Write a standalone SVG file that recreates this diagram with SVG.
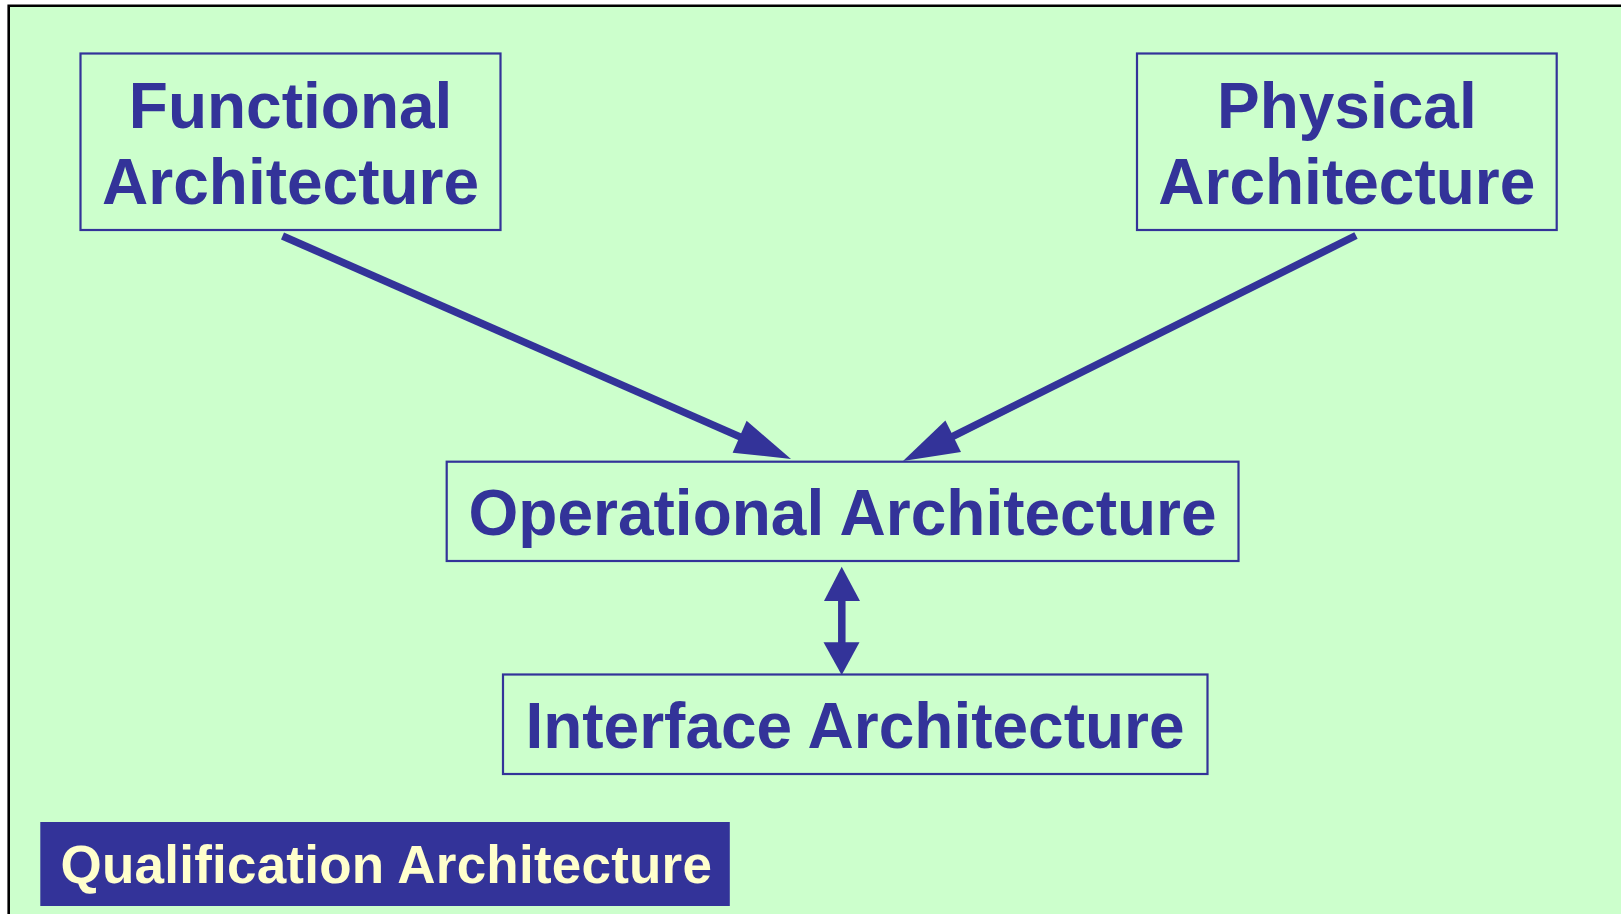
<svg xmlns="http://www.w3.org/2000/svg" width="1621" height="914" viewBox="0 0 1621 914">
<defs>
<style>
.box{fill:none;stroke:#333399;stroke-width:2.2}
.lbl{font-family:"Liberation Sans",Arial,sans-serif;font-weight:bold;font-size:64px;fill:#333399;text-anchor:middle}
.shaft{stroke:#333399;stroke-width:7.5;fill:none}
.head{fill:#333399;stroke:none}
</style>
</defs>
<rect x="0" y="0" width="1621" height="914" fill="#ffffff"/>
<rect x="9" y="6" width="1612" height="908" fill="#CCFFCC"/>
<path d="M8.7,914 V5.7 H1621" fill="none" stroke="#000000" stroke-width="2.6"/>

<g id="functional">
<rect class="box" x="80.5" y="53.5" width="420" height="176.5"/>
<text class="lbl" x="290.6" y="127.7">Functional</text>
<text class="lbl" x="290.6" y="204">Architecture</text>
</g>

<g id="physical">
<rect class="box" x="1137" y="53.5" width="419.7" height="176.5"/>
<text class="lbl" x="1346.8" y="127.7">Physical</text>
<text class="lbl" x="1346.8" y="204">Architecture</text>
</g>

<g id="operational">
<rect class="box" x="446.7" y="461.7" width="791.8" height="99.3"/>
<text class="lbl" x="842.6" y="535">Operational Architecture</text>
</g>

<g id="interface">
<rect class="box" x="503" y="674.5" width="704.5" height="99.5"/>
<text class="lbl" x="855" y="748">Interface Architecture</text>
</g>

<g id="qualification">
<rect x="40.3" y="822" width="689.5" height="84" fill="#333399"/>
<text x="60.5" y="883.3" font-family="'Liberation Sans',Arial,sans-serif" font-weight="bold" font-size="53" letter-spacing="0.22" fill="#FFFFCC">Qualification Architecture</text>
</g>

<g id="connectors">
<line class="shaft" x1="282.5" y1="236" x2="745.2" y2="439.1"/>
<polygon class="head" points="791,459 732.6,452.7 746.6,420.7"/>
<line class="shaft" x1="1356" y1="235.5" x2="947.8" y2="438.8"/>
<polygon class="head" points="903,461 945.4,420.5 961,451.9"/>
<line class="shaft" x1="841.8" y1="598" x2="841.8" y2="645"/>
<polygon class="head" points="841.7,566.7 824,601 860,601"/>
<polygon class="head" points="841.7,675 823.5,642.3 859.5,642.3"/>
</g>
</svg>
